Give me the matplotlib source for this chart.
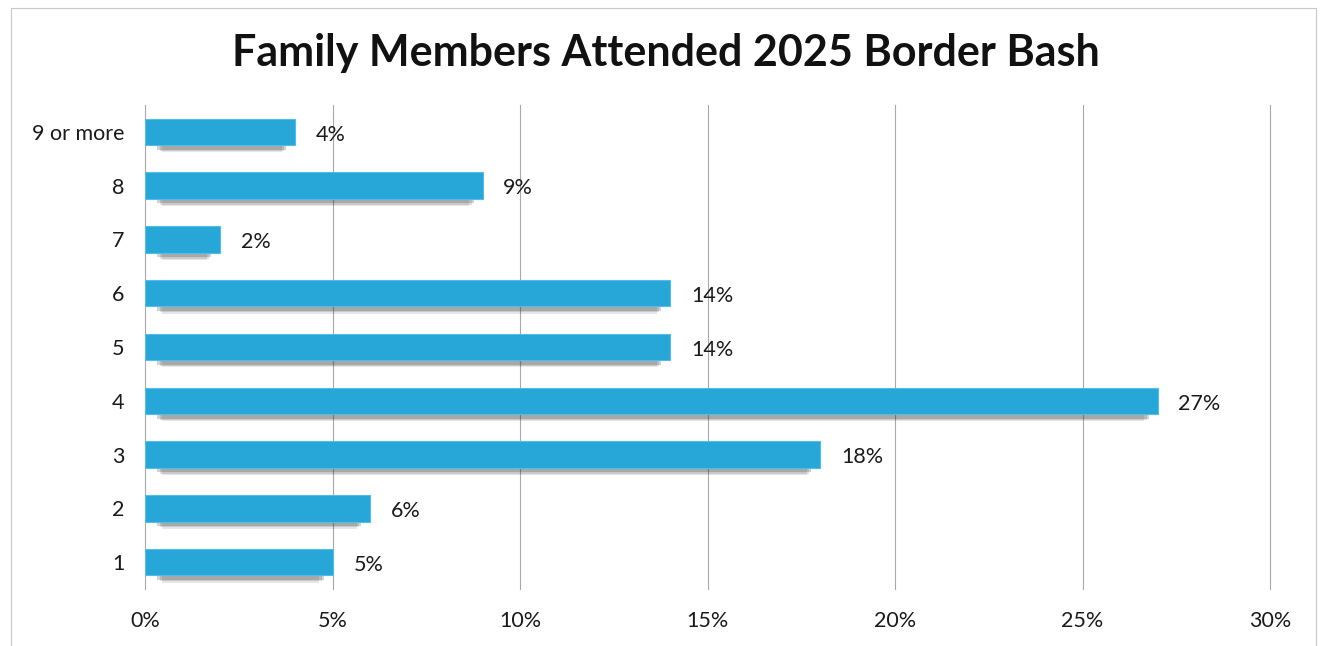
import matplotlib
matplotlib.use("Agg")
import matplotlib.pyplot as plt
from matplotlib.patches import Rectangle

categories = ["1", "2", "3", "4", "5", "6", "7", "8", "9 or more"]
values = [5, 6, 18, 27, 14, 14, 2, 9, 4]
xticks = [0, 5, 10, 15, 20, 25, 30]
xtick_labels = ["0%", "5%", "10%", "15%", "20%", "25%", "30%"]
title = "Family Members Attended 2025 Border Bash"

plt.rcParams['font.family'] = ['Lato', 'DejaVu Sans']

fig = plt.figure(figsize=(13.21, 6.46), dpi=100)
fig.patch.set_facecolor("white")
ax = fig.add_axes([0.1098, 0.0882, 0.8516, 0.7493])

ypos = list(range(len(categories)))
# soft shadow beneath each bar (several translucent layers)
for k, a in enumerate([0.12, 0.16, 0.22]):
    ax.barh([y - 0.19 for y in ypos], [v - 0.8 + 0.12 * k for v in values],
            left=0.45 - 0.06 * k, height=0.38 - 0.05 * k,
            color="#333333", alpha=a, linewidth=0, zorder=2)
ax.barh(ypos, values, height=0.49, color="#27A6D8", edgecolor="#52BEE8",
        linewidth=0.8, zorder=3)

for y, v in zip(ypos, values):
    ax.annotate(f"{v}%", xy=(v, y), xytext=(15, -2), textcoords="offset points",
                ha="left", va="center", fontsize=15.5, color="#1a1a1a")

ax.set_xlim(0, 30)
ax.set_ylim(-0.5, len(categories) - 0.5)
ax.set_xticks(xticks)
ax.set_xticklabels(xtick_labels, fontsize=15.5, color="#1a1a1a")
ax.set_yticks(ypos)
ax.set_yticklabels(categories, fontsize=15.5, color="#1a1a1a")
ax.tick_params(axis="x", length=0, pad=16)
ax.tick_params(axis="y", length=0, pad=15)
for s in ax.spines.values():
    s.set_visible(False)
ax.grid(axis="x", color="#a8a8a8", linewidth=0.8, zorder=0)
ax.set_axisbelow(True)
for gl in ax.get_xgridlines():
    gl.set_clip_on(False)

fig.text(0.504, 0.918, title, ha="center", va="center", fontsize=31,
         fontweight="bold", color="#111111")

# faint page frame from the scan
fig.patches.append(Rectangle((0.008, -0.01), 0.988, 0.998, transform=fig.transFigure,
                             fill=False, edgecolor="#c8c8c8", linewidth=0.8))

fig.savefig("out.png", dpi=100, facecolor="white")
